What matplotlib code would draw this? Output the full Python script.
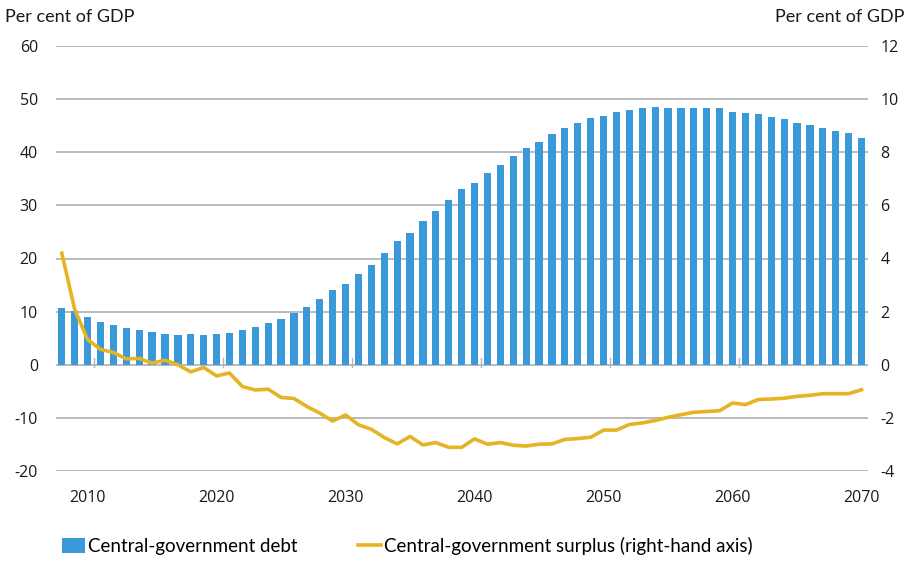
import matplotlib
matplotlib.use("Agg")
import matplotlib.pyplot as plt
from matplotlib.patches import Patch
from matplotlib.lines import Line2D
import numpy as np

# Central-government debt, per cent of GDP (left axis), 2008-2070
years = list(range(2008, 2071))
debt = [
    10.6, 10.2, 8.9, 8.1, 7.4, 6.95, 6.45, 6.2, 5.8, 5.65,
    5.7, 5.55, 5.75, 5.9, 6.45, 7.15, 7.85, 8.67, 9.68, 10.89,
    12.35, 14.1, 15.22, 17.04, 18.87, 21.0, 23.27, 24.72, 26.98, 28.99,
    31.07, 33.08, 34.28, 36.1, 37.67, 39.37, 40.88, 42.0, 43.4, 44.53,
    45.6, 46.54, 46.86, 47.55, 47.92, 48.24, 48.43, 48.24, 48.36, 48.3,
    48.24, 48.24, 47.67, 47.48, 47.11, 46.67, 46.29, 45.53, 45.09, 44.59,
    44.09, 43.65, 42.64,
]
# Central-government surplus, per cent of GDP (right axis)
surplus = [
    4.2, 2.08, 0.95, 0.58, 0.46, 0.22, 0.24, 0.06, 0.17, 0.0,
    -0.27, -0.10, -0.42, -0.31, -0.82, -0.95, -0.92, -1.23, -1.27, -1.57,
    -1.82, -2.12, -1.89, -2.26, -2.43, -2.74, -2.98, -2.70, -3.02, -2.93,
    -3.11, -3.11, -2.79, -2.99, -2.93, -3.03, -3.06, -2.99, -2.98, -2.81,
    -2.78, -2.73, -2.46, -2.46, -2.25, -2.19, -2.10, -1.98, -1.88, -1.79,
    -1.76, -1.73, -1.44, -1.50, -1.31, -1.29, -1.26, -1.19, -1.15, -1.09,
    -1.09, -1.09, -0.94,
]
left_ticks = [-20, -10, 0, 10, 20, 30, 40, 50, 60]
right_ticks = [-4, -2, 0, 2, 4, 6, 8, 10, 12]
x_labels = [2010, 2020, 2030, 2040, 2050, 2060, 2070]

BLUE = "#3a9ad9"
GOLD = "#e5b423"
GRID = "#b5b5b5"
TXT = "#1a1a1a"
FONT = "Open Sans"
NARROW = "Lato"

fig = plt.figure(figsize=(9.08, 5.61), dpi=100)
ax = fig.add_axes([56 / 908, 1 - 471 / 561, (868 - 56) / 908, (471 - 46) / 561])
ax2 = ax.twinx()

ax.set_ylim(-20, 60)
ax2.set_ylim(-4, 12)
ax.set_xlim(2007.55, 2070.5)

for v in left_ticks:
    ax.axhline(v, color=GRID, lw=1.3, zorder=0)

ax.bar(years, debt, width=0.56, color=BLUE, zorder=2)
ax2.plot(years, surplus, color=GOLD, lw=2.6, zorder=3, solid_joinstyle="round")

# small marks on the zero line between decades
for d in x_labels[:-1]:
    ax.plot([d + 0.5, d + 0.5], [-0.5, 1.2], color=GRID, lw=1.0, zorder=1)

for a in (ax, ax2):
    for s in a.spines.values():
        s.set_visible(False)

ax.set_yticks(left_ticks)
ax.set_yticklabels([str(v) for v in left_ticks], fontsize=11.5, color=TXT, family=FONT)
ax.tick_params(axis="y", length=0, pad=13)
ax2.set_yticks(right_ticks)
ax2.set_yticklabels([str(v) for v in right_ticks], fontsize=11.5, color=TXT, family=FONT)
ax2.tick_params(axis="y", length=0, pad=9)

ax.set_xticks(x_labels)
ax.set_xticklabels([str(v) for v in x_labels], fontsize=11.5, color=TXT, family=FONT)
ax.tick_params(axis="x", length=0, pad=14)

fig.text(5 / 908, 1 - 17 / 561, "Per cent of GDP", fontsize=13, color=TXT,
         family=NARROW, ha="left", va="center")
fig.text(904 / 908, 1 - 17 / 561, "Per cent of GDP", fontsize=13, color=TXT,
         family=NARROW, ha="right", va="center")

handles = [
    Patch(facecolor=BLUE, edgecolor="none"),
    Line2D([0], [0], color=GOLD, lw=2.6),
]
labels = ["Central-government debt", "Central-government surplus (right-hand axis)"]
fig.legend(handles, labels, loc="center left", bbox_to_anchor=(62 / 908, 1 - 546 / 561),
           ncol=2, frameon=False, borderpad=0, borderaxespad=0,
           handlelength=1.22, handleheight=0.85, handletextpad=0.16,
           columnspacing=3.25, prop={"family": NARROW, "size": 13.5})

fig.savefig("out.png", dpi=100, facecolor="white")
